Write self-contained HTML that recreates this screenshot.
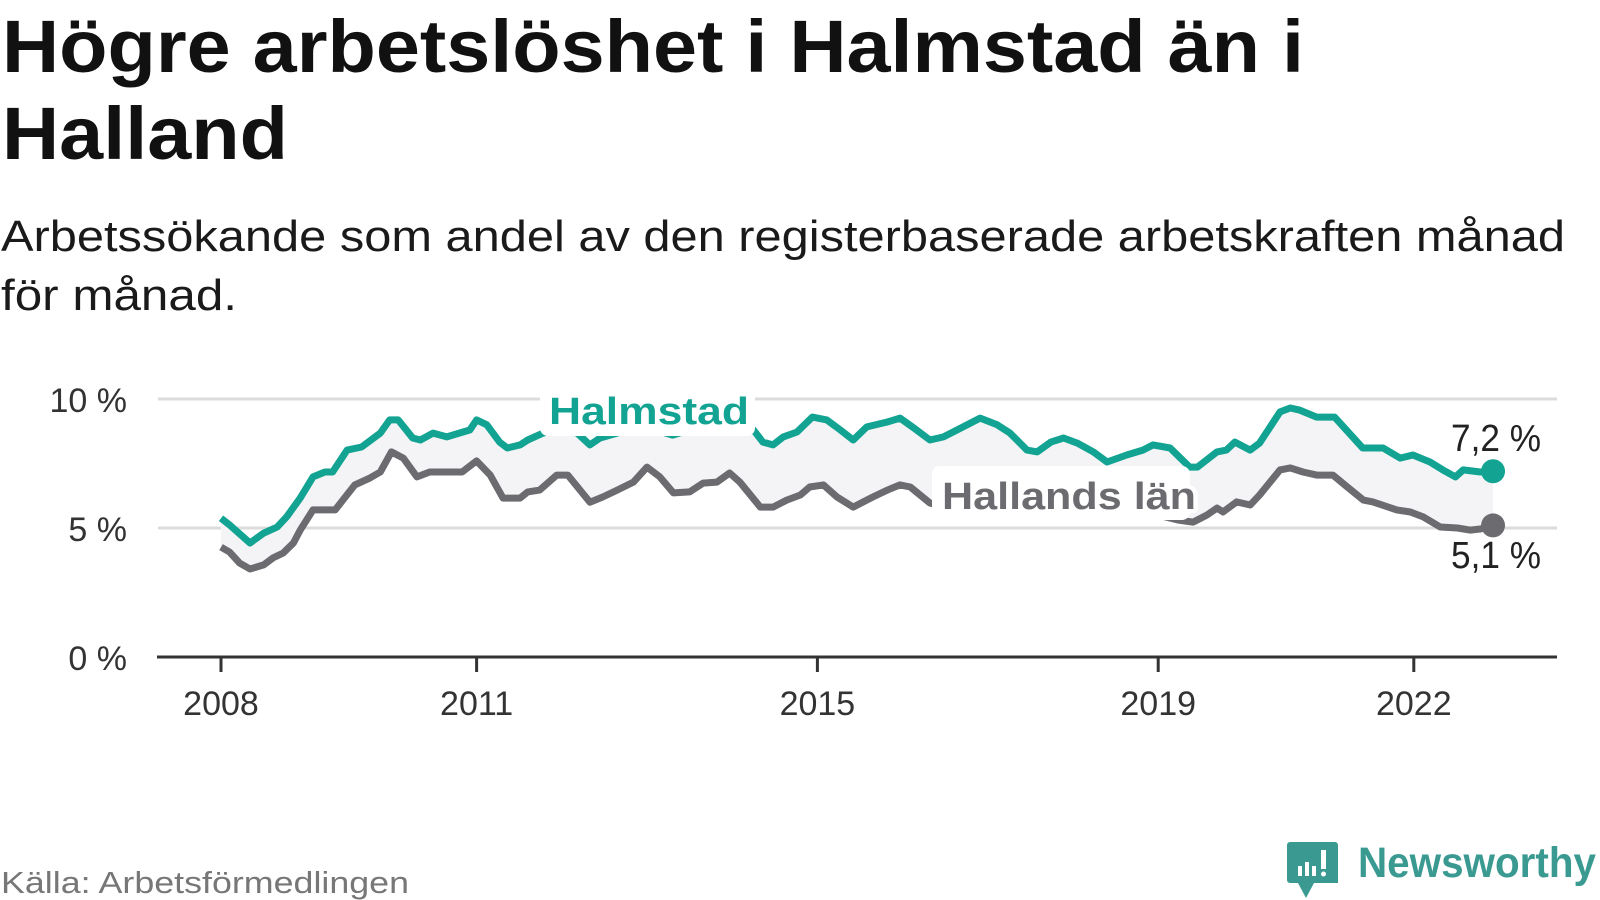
<!DOCTYPE html>
<html><head><meta charset="utf-8"><style>
html,body{margin:0;padding:0;background:#fff;}
svg{display:block;font-family:"Liberation Sans",sans-serif;}
</style></head><body>
<svg id="chart" width="1600" height="900" viewBox="0 0 1600 900" xmlns="http://www.w3.org/2000/svg">
<text x="2" y="72" font-size="74" font-weight="bold" fill="#111" textLength="1302" lengthAdjust="spacingAndGlyphs">Högre arbetslöshet i Halmstad än i</text>
<text x="2" y="159" font-size="74" font-weight="bold" fill="#111" textLength="286" lengthAdjust="spacingAndGlyphs">Halland</text>
<text x="1" y="251" font-size="44" fill="#1a1a1a" textLength="1564" lengthAdjust="spacingAndGlyphs">Arbetssökande som andel av den registerbaserade arbetskraften månad</text>
<text x="1" y="310" font-size="44" fill="#1a1a1a" textLength="236" lengthAdjust="spacingAndGlyphs">för månad.</text>
<g id="grid"></g>
<g id="band"></g>
<g id="lines"></g>
<g id="axes"></g>
<g id="labels"></g>
<text x="1" y="893" font-size="31" fill="#777" textLength="408" lengthAdjust="spacingAndGlyphs">Källa: Arbetsförmedlingen</text>
<g>
<path d="M1293 842 h42 a3 3 0 0 1 3 3 v38 h-24 l-8 15 l-8 -15 h-8 a3 3 0 0 1 -3 -3 v-35 a3 3 0 0 1 3 -3z" fill="#3a9a92"/>
<rect x="1298" y="866" width="4" height="10" fill="#fff"/><rect x="1305" y="862" width="4" height="14" fill="#fff"/><rect x="1312" y="866" width="4" height="10" fill="#fff"/><rect x="1321" y="850" width="5" height="19" fill="#fff"/><circle cx="1323.5" cy="874" r="2.5" fill="#fff"/>
<text x="1358" y="877" font-size="43" font-weight="bold" fill="#3a9a92" textLength="238" lengthAdjust="spacingAndGlyphs">Newsworthy</text>
</g>
</svg>
<script>
const yTicks = [0, 5, 10];
const yTickLabels = ["0 %", "5 %", "10 %"];
const xTicks = [2008, 2011, 2015, 2019, 2022];
const xTickLabels = ["2008", "2011", "2015", "2019", "2022"];
const halmstadDates = [2008.0,2008.1,2008.34,2008.5,2008.66,2008.77,2008.93,2009.08,2009.22,2009.31,2009.48,2009.65,2009.87,2009.98,2010.08,2010.25,2010.34,2010.49,2010.65,2010.84,2010.92,2011.0,2011.12,2011.27,2011.36,2011.51,2011.6,2011.78,2011.98,2012.18,2012.33,2012.45,2012.65,2012.76,2012.9,2013.2,2013.3,2013.5,2013.8,2014.1,2014.25,2014.36,2014.48,2014.6,2014.76,2014.94,2015.11,2015.27,2015.42,2015.58,2015.82,2015.97,2016.13,2016.32,2016.48,2016.71,2016.91,2017.11,2017.26,2017.46,2017.58,2017.74,2017.89,2018.05,2018.24,2018.4,2018.63,2018.82,2018.94,2019.14,2019.37,2019.46,2019.69,2019.8,2019.9,2020.08,2020.19,2020.43,2020.55,2020.66,2020.86,2021.07,2021.4,2021.64,2021.84,2021.99,2022.19,2022.34,2022.49,2022.58,2022.78,2022.93];
const halmstadValues = [5.38,5.12,4.42,4.8,5.04,5.43,6.16,6.98,7.17,7.17,8.02,8.14,8.68,9.19,9.19,8.49,8.41,8.68,8.53,8.72,8.8,9.19,9.0,8.33,8.1,8.22,8.41,8.68,8.88,8.68,8.22,8.49,8.68,8.8,8.8,8.7,8.6,8.8,9.0,9.1,8.8,8.33,8.22,8.53,8.72,9.3,9.19,8.8,8.41,8.92,9.11,9.26,8.88,8.41,8.53,8.92,9.26,9.0,8.68,8.02,7.95,8.33,8.49,8.29,7.95,7.56,7.83,8.02,8.22,8.1,7.36,7.36,7.95,8.02,8.33,8.02,8.29,9.5,9.65,9.57,9.3,9.3,8.1,8.1,7.71,7.83,7.56,7.25,6.98,7.25,7.17,7.2];
const hallandDates = [2008.0,2008.1,2008.22,2008.34,2008.5,2008.61,2008.73,2008.85,2008.93,2009.08,2009.34,2009.43,2009.57,2009.75,2009.87,2010.0,2010.14,2010.3,2010.45,2010.83,2011.0,2011.16,2011.31,2011.51,2011.6,2011.74,2011.94,2012.07,2012.33,2012.48,2012.65,2012.84,2013.0,2013.15,2013.31,2013.5,2013.66,2013.82,2013.97,2014.09,2014.33,2014.48,2014.64,2014.8,2014.91,2015.07,2015.23,2015.42,2015.65,2015.82,2015.97,2016.09,2016.32,2016.5,2017.0,2017.5,2018.0,2018.5,2019.0,2019.23,2019.41,2019.57,2019.69,2019.76,2019.92,2020.08,2020.19,2020.43,2020.55,2020.7,2020.86,2021.05,2021.22,2021.41,2021.52,2021.8,2021.96,2022.11,2022.31,2022.51,2022.66,2022.78,2022.93];
const hallandValues = [4.26,4.07,3.64,3.41,3.57,3.84,4.03,4.42,4.92,5.7,5.7,6.08,6.67,6.94,7.17,7.95,7.71,6.98,7.17,7.17,7.6,7.05,6.16,6.16,6.4,6.47,7.05,7.05,6.0,6.2,6.47,6.78,7.36,6.98,6.36,6.4,6.74,6.78,7.13,6.78,5.81,5.81,6.08,6.28,6.59,6.67,6.2,5.81,6.2,6.47,6.67,6.59,5.97,5.8,5.9,5.8,5.7,5.6,5.5,5.31,5.23,5.5,5.77,5.62,6.01,5.89,6.28,7.25,7.33,7.17,7.05,7.05,6.59,6.08,6.01,5.7,5.62,5.43,5.04,5.0,4.92,4.96,5.1];

const NS = "http://www.w3.org/2000/svg";
const X0 = 221, PXY = 85.2, Y0 = 657, PXV = 25.8;
function xScale(d){ return X0 + (d - 2008) * PXY; }
function yScale(v){ return Y0 - v * PXV; }
function mk(tag, attrs, parent){ const e = document.createElementNS(NS, tag); for (const k in attrs) e.setAttribute(k, attrs[k]); parent.appendChild(e); return e; }
const grid = document.getElementById('grid'), axes = document.getElementById('axes'), band = document.getElementById('band'), lines = document.getElementById('lines'), labels = document.getElementById('labels');

yTicks.forEach((t, i) => {
  if (t > 0) {
    const g = mk('line', {x1:158, x2:1557, y1:yScale(t), y2:yScale(t), stroke:'#dcdcdc', 'stroke-width':3}, grid);
    
    
  }
  const tl = mk('text', {x:127, y:yScale(t) + 13, 'text-anchor':'end', 'font-size':34, fill:'#333'}, axes);
  tl.textContent = yTickLabels[i];
  
  
});
const ax = mk('line', {x1:157, x2:1557, y1:Y0, y2:Y0, stroke:'#333', 'stroke-width':3}, axes);


xTicks.forEach((t, i) => {
  const tk = mk('line', {x1:xScale(t), x2:xScale(t), y1:Y0, y2:Y0 + 15, stroke:'#333', 'stroke-width':3}, axes);
  
  
  const tl = mk('text', {x:xScale(t), y:715, 'text-anchor':'middle', 'font-size':34, fill:'#333'}, axes);
  tl.textContent = xTickLabels[i];
  
  
});

function pts(ds, vs){ return ds.map((d, i) => xScale(d).toFixed(1) + ',' + yScale(vs[i]).toFixed(1)); }
const hp = pts(halmstadDates, halmstadValues), gp = pts(hallandDates, hallandValues);
const poly = mk('polygon', {points: hp.concat(gp.slice().reverse()).join(' '), fill:'#f4f4f6'}, band);



const gl = mk('polyline', {points: gp.join(' '), fill:'none', stroke:'#6c6b70', 'stroke-width':7, 'stroke-linejoin':'round'}, lines);


const tlq = mk('polyline', {points: hp.join(' '), fill:'none', stroke:'#12a392', 'stroke-width':7, 'stroke-linejoin':'round'}, lines);



const lastH = halmstadValues.length - 1, lastG = hallandValues.length - 1;
const d1 = mk('circle', {cx:xScale(halmstadDates[lastH]), cy:yScale(halmstadValues[lastH]), r:12, fill:'#12a392'}, lines);


const d2 = mk('circle', {cx:xScale(hallandDates[lastG]), cy:yScale(hallandValues[lastG]), r:12, fill:'#6c6b70'}, lines);



const r1 = mk('rect', {x:540, y:380, width:215, height:56, rx:8, fill:'#fff'}, labels);


const r2 = mk('rect', {x:932, y:466, width:258, height:54, rx:8, fill:'#fff'}, labels);



function label(txt, x, y, color, w, name, bold){
  const t = mk('text', {x:x, y:y, 'font-size':38, fill:color, stroke:'#fff', 'stroke-width':8, 'stroke-linejoin':'round', 'paint-order':'stroke', textLength:w, lengthAdjust:'spacingAndGlyphs'}, labels);
  if (bold) t.setAttribute('font-weight', 'bold');
  t.textContent = txt;
  
  
}
label('Halmstad', 549, 424, '#12a392', 200, 'halmstad-label', true);
label('Hallands län', 942, 509, '#6c6b70', 254, 'hallands-lan-label', true);
label('7,2 %', 1451, 451, '#222', 90, 'halmstad-value-label', false);
label('5,1 %', 1451, 568, '#222', 90, 'hallands-lan-value-label', false);
</script>
</body></html>
